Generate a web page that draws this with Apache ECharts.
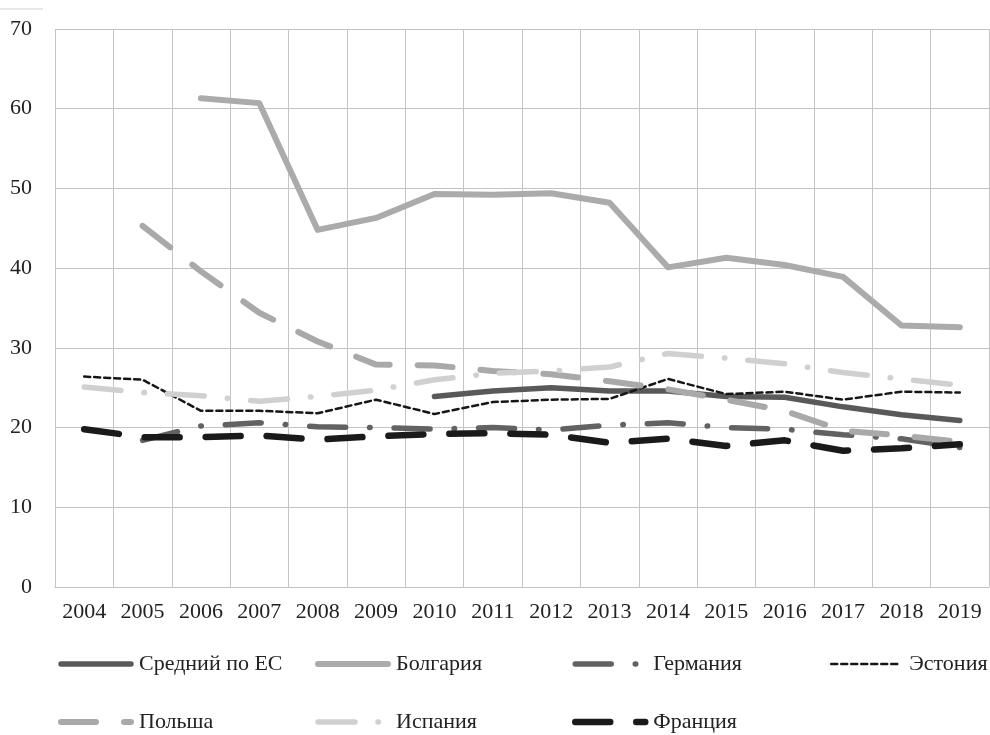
<!DOCTYPE html>
<html>
<head>
<meta charset="utf-8">
<script src="https://cdn.jsdelivr.net/npm/echarts@6/dist/echarts.min.js"></script>
<style>
  html, body { margin: 0; padding: 0; background: #fff; }
  #chart { width: 990px; height: 735px; }
</style>
</head>
<body>
<div id="chart"></div>
<script>
// годы по оси X
const years = ['2004', '2005', '2006', '2007', '2008', '2009', '2010', '2011',
  '2012', '2013', '2014', '2015', '2016', '2017', '2018', '2019']
const yTicks = [0, 10, 20, 30, 40, 50, 60, 70]

// значения по странам (null — нет данных)
const avgEU = [null, null, null, null, null, null, 23.9, 24.6, 25.0, 24.6, 24.6, 23.9, 23.8, 22.6, 21.6, 20.9]
const bulgaria = [null, null, 61.3, 60.7, 44.8, 46.3, 49.3, 49.2, 49.4, 48.2, 40.1, 41.3, 40.4, 38.9, 32.8, 32.6]
const germany = [null, 18.4, 20.2, 20.6, 20.1, 20.0, 19.8, 20.0, 19.7, 20.3, 20.6, 20.0, 19.8, 19.1, 18.6, 17.5]
const estonia = [26.4, 26.0, 22.1, 22.1, 21.8, 23.5, 21.7, 23.2, 23.5, 23.6, 26.1, 24.2, 24.5, 23.5, 24.5, 24.4]
const poland = [null, 45.3, 39.6, 34.4, 30.8, 27.9, 27.8, 27.1, 26.7, 25.8, 24.8, 23.5, 22.1, 19.6, 19.0, 18.2]
const spain = [25.1, 24.4, 24.0, 23.3, 23.9, 24.7, 26.0, 26.8, 27.1, 27.6, 29.3, 28.7, 28.0, 26.9, 26.1, 25.3]
const france = [19.8, 18.8, 18.8, 19.0, 18.5, 18.9, 19.2, 19.3, 19.1, 18.1, 18.6, 17.7, 18.4, 17.1, 17.4, 17.9]

const font = 'Liberation Serif'

function line (name, data, color, width, dash) {
  return {
    name: name,
    type: 'line',
    data: data,
    symbol: 'none',
    connectNulls: false,
    lineStyle: {
      color: color,
      width: width,
      type: dash || 'solid',
      cap: 'round',
      join: 'round'
    },
    itemStyle: { color: color },
    emphasis: { disabled: true }
  }
}

// легенда в виде колонок, без маркера — только линия
function legendCol (left, names) {
  return {
    orient: 'vertical',
    left: left,
    top: 653,
    padding: 0,
    itemGap: 36,
    itemWidth: 70,
    itemHeight: 14,
    data: names,
    selectedMode: false,
    textStyle: { fontFamily: font, fontSize: 22, color: '#222', padding: [0, 0, 0, 3] },
    itemStyle: { opacity: 0, borderWidth: 0 },
    lineStyle: { width: 'inherit', opacity: 1 }
  }
}

const chart = echarts.init(document.getElementById('chart'))
chart.setOption({
  animation: false,
  backgroundColor: '#fff',
  grid: { left: 55, right: 1, top: 29, bottom: 148 },
  legend: [
    legendCol(58, ['Средний по ЕС', 'Польша']),
    legendCol(315, ['Болгария', 'Испания']),
    legendCol(572, ['Германия', 'Франция']),
    legendCol(830, ['Эстония'])
  ],
  xAxis: {
    type: 'category',
    data: years,
    boundaryGap: true,
    axisTick: { show: false },
    axisLine: { lineStyle: { color: '#c4c4c4', width: 1 } },
    splitLine: { show: true, interval: 0, lineStyle: { color: '#c4c4c4', width: 1 } },
    axisLabel: { interval: 0, margin: 14, fontFamily: font, fontSize: 22, color: '#222' }
  },
  yAxis: {
    type: 'value',
    min: yTicks[0],
    max: yTicks[yTicks.length - 1],
    interval: 10,
    axisLine: { show: false },
    axisTick: { show: false },
    splitLine: { lineStyle: { color: '#c4c4c4', width: 1 } },
    axisLabel: { margin: 23, fontFamily: font, fontSize: 22, color: '#222' }
  },
  graphic: [{
    type: 'line',
    shape: { x1: 0, y1: 9, x2: 43, y2: 9 },
    style: { stroke: '#cfcfcf', lineWidth: 1 }
  }],
  series: [
    line('Средний по ЕС', avgEU, '#595959', 5.5),
    line('Болгария', bulgaria, '#ababab', 6),
    line('Германия', germany, '#626262', 5.5, [36, 24, 0.5, 24]),
    line('Эстония', estonia, '#161616', 2.5, [6, 4]),
    line('Польша', poland, '#a9a9a9', 6, [35, 28]),
    line('Испания', spain, '#d0d0d0', 5.5, [37, 23, 0.5, 23]),
    line('Франция', france, '#1a1a1a', 6.5, [35, 26])
  ]
})
</script>
</body>
</html>
